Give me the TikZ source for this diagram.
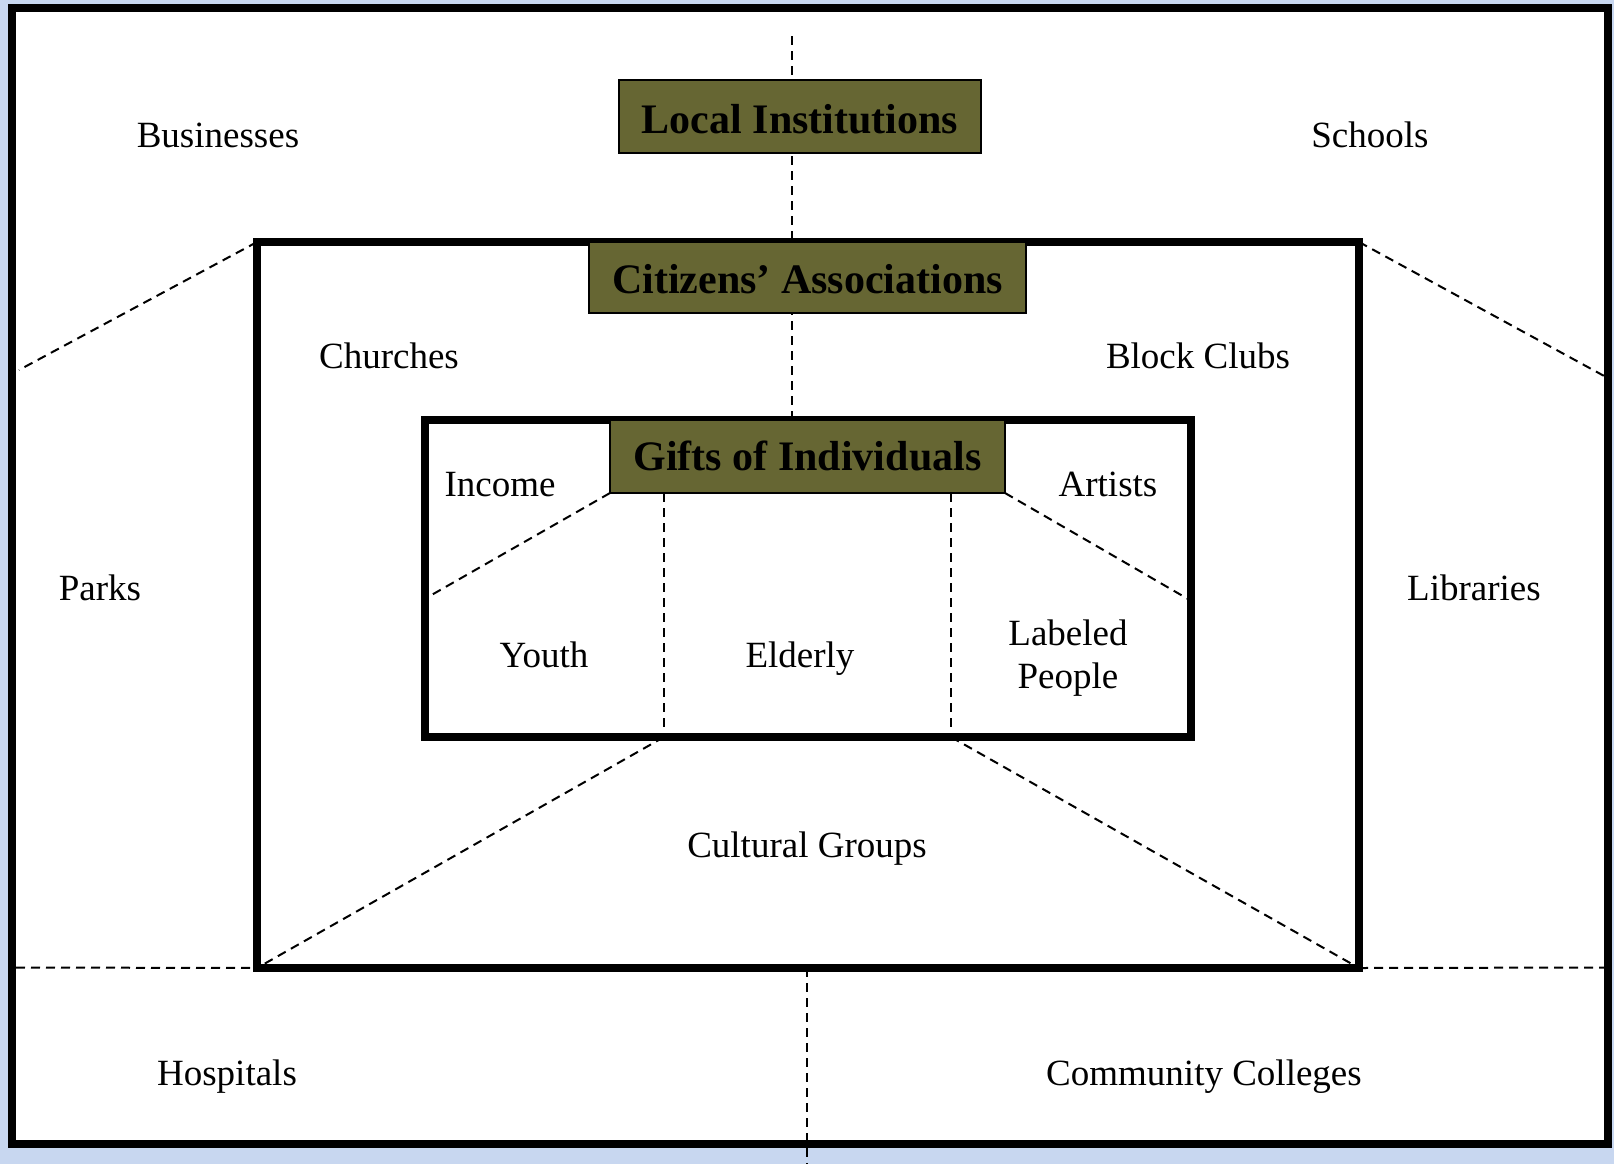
\documentclass[tikz,border=0pt]{standalone}
\usepackage{fontspec}
\setmainfont{Liberation Serif}
\definecolor{olivebox}{RGB}{102,102,51}
\definecolor{paper}{RGB}{200,215,240}
\newcommand{\headtext}[2]{\raisebox{-#1}[0pt][0pt]{#2}}
\begin{document}
\begin{tikzpicture}[x=0.5pt,y=-0.5pt,
  boxframe/.style={draw=black, line width=4pt, inner sep=0pt, outer sep=0pt},
  tagbox/.style={draw=black, line width=1pt, fill=olivebox, inner sep=0pt, outer sep=0pt,
                 font=\fontsize{21}{25}\selectfont\bfseries},
  word/.style={font=\fontsize{18.5}{21.5}\selectfont, align=center, inner sep=0pt},
  guide/.style={draw=black, line width=1pt, dash pattern=on 4.5pt off 3pt}]

% page and backdrop
\useasboundingbox (0,0) rectangle (1614,1164);
\fill[paper] (0,0) rectangle (1614,1164);

% nested frames
\node[boxframe, fill=white, minimum width=798pt, minimum height=568pt] (outer) at (810,576) {};
\node[boxframe, minimum width=551pt, minimum height=363pt] (middle) at (808,605) {};
\node[boxframe, minimum width=383pt, minimum height=158.5pt] (inner) at (808,578.5) {};

% free ends of the guide lines
\coordinate (topend) at (791.5,36);
\coordinate (bottomend) at (807,1164);
\coordinate (leftend) at (16,967.5);
\coordinate (rightend) at (1606,967.5);
\coordinate (nwend) at (19,370);
\coordinate (neend) at (1606,377);
\coordinate (incomeend) at (428,597);
\coordinate (artistsend) at (1188,599);
\coordinate (splitL) at (664,493);
\coordinate (splitR) at (951,493);

% dashed guides
\draw[guide] (topend) -- (topend |- inner.north);
\draw[guide] (leftend) -- (middle.south west);
\draw[guide] (middle.south east) -- (rightend);
\draw[guide] (middle.north west) -- (nwend);
\draw[guide] (middle.north east) -- (neend);
\draw[guide] (splitL) -- (splitL |- inner.south);
\draw[guide] (splitR) -- (splitR |- inner.south);
\draw[guide] (splitL |- inner.south) -- (middle.south west);
\draw[guide] (splitR |- inner.south) -- (middle.south east);

% redraw frame edges over the guides
\node[boxframe, minimum width=798pt, minimum height=568pt] at (810,576) {};
\node[boxframe, minimum width=551pt, minimum height=363pt] at (808,605) {};
\node[boxframe, minimum width=383pt, minimum height=158.5pt] at (808,578.5) {};

\draw[guide] (middle.south -| bottomend) -- (bottomend);

% headings
\node[tagbox, minimum width=181pt, minimum height=36.5pt] (local) at (800,116.5) {\headtext{8.6pt}{Local Institutions}};
\node[tagbox, minimum width=218.5pt, minimum height=35.5pt] (citizens) at (807.5,277.5) {\headtext{8.2pt}{Citizens’ Associations}};
\node[tagbox, minimum width=197.5pt, minimum height=36.5pt] (gifts) at (807.5,456.5) {\headtext{7.2pt}{Gifts of Individuals}};

\draw[guide] (gifts.south west) -- (incomeend);
\draw[guide] (gifts.south east) -- (artistsend);

% labels
\node[word] (businesses) at (218,135) {Businesses};
\node[word] (schools) at (1370,135) {Schools};
\node[word] (churches) at (389,356) {Churches};
\node[word] (blockclubs) at (1198,356) {Block Clubs};
\node[word] (income) at (500,485) {Income};
\node[word] (artists) at (1108,484) {Artists};
\node[word] (parks) at (100,588) {Parks};
\node[word] (libraries) at (1474,588) {Libraries};
\node[word] (youth) at (544,655) {Youth};
\node[word] (elderly) at (800,659) {Elderly};
\node[word] (labeled) at (1068,658) {Labeled\\People};
\node[word] (cultural) at (807,849) {Cultural Groups};
\node[word] (hospitals) at (227,1077) {Hospitals};
\node[word] (colleges) at (1204,1077) {Community Colleges};
\end{tikzpicture}
\end{document}
